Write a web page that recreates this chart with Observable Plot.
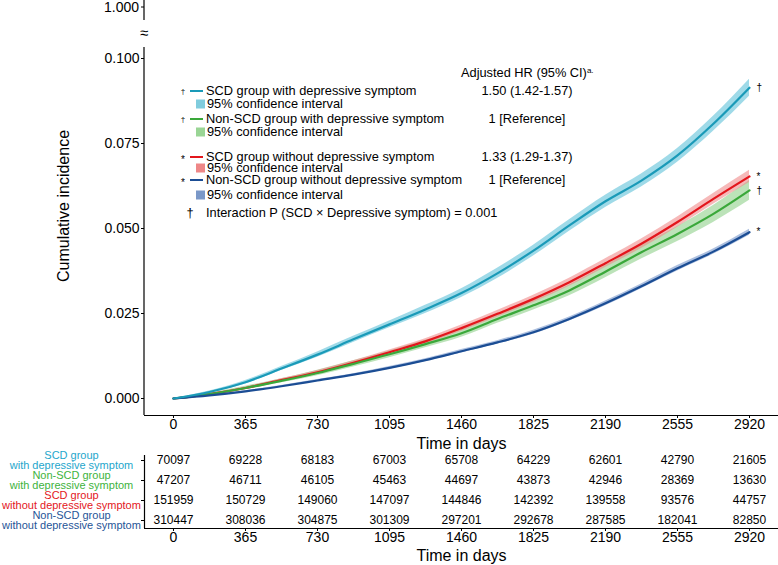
<!DOCTYPE html>
<html>
<head>
<meta charset="utf-8">
<script src="https://cdn.jsdelivr.net/npm/d3@7"></script>
<script src="https://cdn.jsdelivr.net/npm/@observablehq/plot@0.6"></script>
<style>
  html, body { margin: 0; padding: 0; background: #fff; }
  #chart svg { display: block; }
</style>
</head>
<body>
<div id="chart"></div>
<script>
// ---------- data ----------
const groups = [
  "SCD group with depressive symptom",
  "Non-SCD group with depressive symptom",
  "SCD group without depressive symptom",
  "Non-SCD group without depressive symptom"
];
const tableLabels = [
  "SCD group\nwith depressive symptom",
  "Non-SCD group\nwith depressive symptom",
  "SCD group\nwithout depressive symptom",
  "Non-SCD group\nwithout depressive symptom"
];
const endMarks = ["\u2020", "\u2020", "*", "*"];
const hrLabels = ["1.50 (1.42-1.57)", "1 [Reference]", "1.33 (1.29-1.37)", "1 [Reference]"];
const hrHeader = "Adjusted HR (95% CI)";
const interactionText = "Interaction P (SCD \u00d7 Depressive symptom) = 0.001";

const days = [0, 182, 365, 547, 730, 912, 1095, 1277, 1460, 1642, 1825, 2007, 2190, 2372, 2555, 2737, 2920];
const incScdDep    = [0, 0.0019, 0.0048, 0.0088, 0.0129, 0.0174, 0.0218, 0.0262, 0.0310, 0.0368, 0.0435, 0.0509, 0.0580, 0.0641, 0.0715, 0.0808, 0.0914];
const incNonScdDep = [0, 0.0013, 0.0031, 0.0052, 0.0075, 0.0102, 0.0130, 0.0160, 0.0192, 0.0234, 0.0274, 0.0318, 0.0373, 0.0430, 0.0484, 0.0543, 0.0612];
const incScdNoDep  = [0, 0.0013, 0.0031, 0.0054, 0.0077, 0.0105, 0.0136, 0.0168, 0.0207, 0.0249, 0.0293, 0.0342, 0.0398, 0.0455, 0.0519, 0.0587, 0.0653];
const incNonScdNoDep = [0, 0.0009, 0.0021, 0.0036, 0.0053, 0.0070, 0.0090, 0.0113, 0.0139, 0.0165, 0.0195, 0.0234, 0.0280, 0.0330, 0.0383, 0.0432, 0.0489];
// half-width of the 95% CI band
const ciScdDep    = [0, 0.0003, 0.0005, 0.0006, 0.0008, 0.0009, 0.0010, 0.0012, 0.0013, 0.0015, 0.0016, 0.0017, 0.0018, 0.0019, 0.0020, 0.0022, 0.0025];
const ciNonScdDep = [0, 0.0003, 0.0005, 0.0006, 0.0008, 0.0009, 0.0010, 0.0011, 0.0012, 0.0013, 0.0014, 0.0016, 0.0018, 0.0020, 0.0022, 0.0025, 0.0029];
const ciScdNoDep  = [0, 0.0002, 0.0003, 0.0004, 0.0005, 0.0006, 0.0007, 0.0008, 0.0009, 0.0010, 0.0011, 0.0012, 0.0013, 0.0014, 0.0015, 0.0016, 0.0018];
const ciNonScdNoDep = [0, 0.0001, 0.0002, 0.0002, 0.0003, 0.0003, 0.0004, 0.0004, 0.0005, 0.0005, 0.0006, 0.0006, 0.0007, 0.0007, 0.0008, 0.0008, 0.0009];

const riskTimes = [0, 365, 730, 1095, 1460, 1825, 2190, 2555, 2920];
const riskScdDep      = [70097, 69228, 68183, 67003, 65708, 64229, 62601, 42790, 21605];
const riskNonScdDep   = [47207, 46711, 46105, 45463, 44697, 43873, 42946, 28369, 13630];
const riskScdNoDep    = [151959, 150729, 149060, 147097, 144846, 142392, 139558, 93576, 44757];
const riskNonScdNoDep = [310447, 308036, 304875, 301309, 297201, 292678, 287585, 182041, 82850];

const yTicks = [0, 0.025, 0.05, 0.075, 0.1];
const breakTickLabel = "1.000";
const xTicks = [0, 365, 730, 1095, 1460, 1825, 2190, 2555, 2920];

// ---------- styles ----------
const FONT = "'Liberation Sans', Arial, Helvetica, sans-serif";
const lineColors  = ["#1a9ab8", "#3aa83a", "#e3161c", "#1b4d94"];
const bandColors  = ["#7fcde0", "#8fd18a", "#f08a8a", "#5a7fbf"];
const bandOpacity = [0.75, 0.6, 0.6, 0.5];
const swatchColors = ["#80ccdd", "#9ad595", "#ee8787", "#7a98c8"];
const labelColors = ["#1ea6cc", "#3db33d", "#e3161c", "#1f5597"];

const incs = [incScdDep, incNonScdDep, incScdNoDep, incNonScdNoDep];
const cis = [ciScdDep, ciNonScdDep, ciScdNoDep, ciNonScdNoDep];
const risks = [riskScdDep, riskNonScdDep, riskScdNoDep, riskNonScdNoDep];

const series = groups.map((g, s) => days.map((t, i) => ({
  group: g, t, v: incs[s][i], lo: incs[s][i] - cis[s][i], hi: incs[s][i] + cis[s][i]
})));
const ends = groups.map((g, s) => ({group: g, t: days[days.length - 1], v: incs[s][incs[s].length - 1], mark: endMarks[s]}));
const riskRows = [];
groups.forEach((g, s) => riskTimes.forEach((t, i) => riskRows.push({row: s, t, n: risks[s][i]})));

// ---------- layout ----------
const W = 778, H1 = 450, H2 = 115;
const xDomain = [-147, 3067];
const yDomain = [-0.005, 0.1];

// broken y-axis decoration above the 0.100 tick (pixel layout)
function axisBreak(index, scales, values, dims) {
  const x0 = dims.marginLeft, top = dims.marginTop, bottom = dims.height - dims.marginBottom;
  const g = d3.create("svg:g").attr("font-family", FONT).attr("fill", "#000");
  g.append("line").attr("x1", x0).attr("x2", x0).attr("y1", 0).attr("y2", 20)
    .attr("stroke", "#000").attr("stroke-width", 1.2);
  g.append("line").attr("x1", x0).attr("x2", x0).attr("y1", top - 11).attr("y2", bottom)
    .attr("stroke", "#000").attr("stroke-width", 1.2);
  g.append("line").attr("x1", x0 - 3).attr("x2", x0).attr("y1", 7).attr("y2", 7)
    .attr("stroke", "#000").attr("stroke-width", 1);
  g.append("text").attr("x", x0 - 5).attr("y", 7).attr("dy", "0.35em").attr("text-anchor", "end")
    .attr("font-size", 14).text(breakTickLabel);
  g.append("text").attr("x", x0).attr("y", 33).attr("dy", "0.35em").attr("text-anchor", "middle")
    .attr("font-size", 15).text("\u2248");
  return g.node();
}

function legendMark() {
  const g = d3.create("svg:g").attr("font-family", FONT).attr("font-size", 12.8)
    .attr("fill", "#000").attr("text-anchor", "start");
  const rowY = [91, 119, 157, 180];
  const subY = [104, 132, 168, 195];
  const head = g.append("text").attr("x", 461).attr("y", 73).attr("dy", "0.35em").text(hrHeader);
  head.append("tspan").attr("font-size", 8).attr("dy", "-0.6em").text("a.");
  groups.forEach((lab, i) => {
    g.append("text").attr("x", 183).attr("y", rowY[i]).attr("dy", endMarks[i] === "*" ? "0.6em" : "0.35em")
      .attr("text-anchor", "middle").attr("font-size", endMarks[i] === "*" ? 10 : 8).text(endMarks[i]);
    g.append("line").attr("x1", 190).attr("x2", 203).attr("y1", rowY[i]).attr("y2", rowY[i])
      .attr("stroke", lineColors[i]).attr("stroke-width", 2);
    g.append("text").attr("x", 206).attr("y", rowY[i]).attr("dy", "0.35em").text(lab);
    g.append("rect").attr("x", 196).attr("y", subY[i] - 4.5).attr("width", 9).attr("height", 9)
      .attr("fill", swatchColors[i]);
    g.append("text").attr("x", 207).attr("y", subY[i]).attr("dy", "0.35em").text("95% confidence interval");
    g.append("text").attr("x", 527).attr("y", rowY[i]).attr("dy", "0.35em")
      .attr("text-anchor", "middle").text(hrLabels[i]);
  });
  g.append("text").attr("x", 190).attr("y", 213).attr("dy", "0.35em").attr("text-anchor", "middle").text("\u2020");
  g.append("text").attr("x", 206).attr("y", 213).attr("dy", "0.35em").text(interactionText);
  return g.node();
}

const mainMarks = [];
series.forEach((rows, s) => {
  mainMarks.push(Plot.areaY(rows, {x: "t", y1: "lo", y2: "hi", curve: "monotone-x",
    fill: bandColors[s], fillOpacity: bandOpacity[s]}));
});
[2, 1, 3, 0].forEach(s => {
  mainMarks.push(Plot.line(series[s], {x: "t", y: "v", curve: "monotone-x",
    stroke: lineColors[s], strokeWidth: 2.2}));
});

const main = Plot.plot({
  width: W, height: H1,
  marginLeft: 144, marginRight: 0, marginTop: 58, marginBottom: H1 - 415,
  style: {fontFamily: FONT, background: "#fff", color: "#000", overflow: "visible"},
  x: {domain: xDomain},
  y: {domain: yDomain},
  marks: [
    ...mainMarks,
    Plot.text(ends, {x: "t", y: "v", text: "mark", dx: 7, textAnchor: "start", fontSize: 10, fill: "#000"}),
    Plot.ruleY([yDomain[0]], {stroke: "#000", strokeWidth: 1.2}),
    axisBreak,
    Plot.axisY({ticks: yTicks, tickFormat: d3.format(".3f"), tickSize: 3, tickPadding: 2,
      fontSize: 14, label: null}),
    Plot.axisX({ticks: xTicks, tickFormat: d3.format("d"), tickSize: 3, tickPadding: 1,
      fontSize: 14, label: null}),
    Plot.text(["Cumulative incidence"], {frameAnchor: "left", dx: -81, dy: -31, rotate: -90,
      textAnchor: "middle", lineAnchor: "middle", fontSize: 16, fill: "#000"}),
    Plot.text(["Time in days"], {frameAnchor: "bottom", dy: 28, textAnchor: "middle",
      lineAnchor: "middle", fontSize: 16, fill: "#000"}),
    legendMark
  ]
});

const rowDomain = [-0.25, 3.4];
const labelMarks = tableLabels.map((lab, i) =>
  Plot.text([lab], {y: () => i, frameAnchor: "left", dx: -73, textAnchor: "middle",
    lineAnchor: "middle", fontSize: 11, lineHeight: 0.92, fill: labelColors[i]}));

const risk = Plot.plot({
  width: W, height: H2,
  marginLeft: 144, marginRight: 0, marginTop: 5, marginBottom: 37,
  style: {fontFamily: FONT, background: "#fff", color: "#000", overflow: "visible"},
  x: {domain: xDomain},
  y: {domain: rowDomain, reverse: true},
  marks: [
    Plot.ruleX([xDomain[0]], {stroke: "#000", strokeWidth: 1.2}),
    Plot.ruleY([rowDomain[1]], {stroke: "#000", strokeWidth: 1.2}),
    Plot.axisY({ticks: [0, 1, 2, 3], tickFormat: () => "", tickSize: 3, label: null}),
    Plot.axisX({ticks: xTicks, tickFormat: d3.format("d"), tickSize: 3, tickPadding: 1,
      fontSize: 14, label: null}),
    Plot.text(riskRows, {x: "t", y: "row", text: d => String(d.n), fontSize: 12, fill: "#000"}),
    ...labelMarks,
    Plot.text(["Time in days"], {frameAnchor: "bottom", dy: 27, textAnchor: "middle",
      lineAnchor: "middle", fontSize: 16, fill: "#000"})
  ]
});

document.getElementById("chart").append(main, risk);
</script>
</body>
</html>
